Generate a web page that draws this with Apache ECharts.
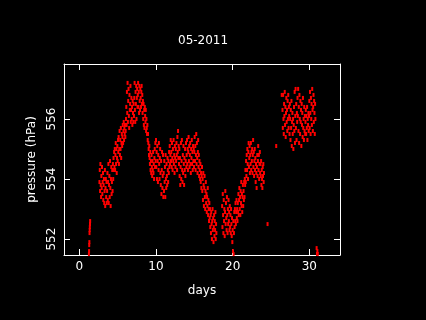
<!DOCTYPE html>
<html>
<head>
<meta charset="utf-8">
<script src="https://cdn.jsdelivr.net/npm/echarts@6/dist/echarts.min.js"></script>
<style>
  html, body { margin: 0; padding: 0; background: #000; }
  #chart { width: 426px; height: 320px; }
</style>
</head>
<body>
<div id="chart"></div>
<script>
// ticks
var xTicks = [0, 10, 20, 30];
var yTicks = [552, 554, 556];

// hourly readings, each block starts at the given day
var earlyDays = [1.25, 1.27, 1.29, 1.31, 1.33, 1.35, 1.37, 1.39, 1.41];
var earlyValues = [551.5, 551.6, 551.8, 551.9, 552.2, 552.3, 552.4, 552.5, 552.6];

var segAStart = 2.625;
var segAValues = [
  553.9, 554.3, 553.6, 554.5, 553.8, 553.4, 554.1, 553.7, 554.4, 553.5, 553.9, 554.2, 553.3, 553.8, 554.0, 553.2, 553.6, 554.3, 553.1, 553.7, 554.0, 553.4, 553.9, 553.2,
  553.6, 554.2, 553.3, 553.9, 554.5, 553.2, 553.8, 554.1, 553.4, 554.6, 553.7, 553.1, 554.0, 554.4, 553.5, 553.9, 554.3, 553.6, 554.5, 554.0, 554.7, 554.3, 554.9, 554.4,
  555.0, 554.3, 554.8, 555.2, 554.5, 555.0, 554.2, 554.7, 555.1, 554.6, 555.3, 554.9, 555.4, 554.5, 555.0, 555.6, 554.8, 555.3, 555.0, 555.7, 554.7, 555.2, 555.5, 555.1,
  555.4, 555.8, 555.2, 555.6, 555.9, 555.3, 555.7, 555.5, 555.8, 555.4, 555.6, 556.0, 556.4, 555.8, 556.9, 556.2, 557.2, 555.9, 556.6, 557.0, 556.1, 555.7, 556.8, 556.3,
  556.5, 557.1, 555.9, 556.3, 556.7, 556.0, 556.4, 555.8, 556.6, 556.2, 555.9, 556.5, 556.1, 556.7, 557.2, 556.3, 555.9, 556.9, 556.5, 557.1, 556.0, 556.7, 557.0, 556.4,
  556.8, 557.2, 556.4, 556.9, 556.2, 557.1, 556.6, 556.3, 557.0, 556.7, 556.4, 556.9, 557.1, 556.5, 556.8, 556.2, 556.6, 556.0, 556.5, 555.8, 556.3, 555.7, 556.4, 556.1,
  555.9, 556.3, 555.6, 556.0, 555.7, 555.5, 555.8, 555.3, 555.5
];

var segBStart = 9.0;
var segBValues = [
  555.2, 555.0, 554.8, 555.1, 554.7, 554.5, 554.9, 554.3, 554.6, 554.2, 554.8, 554.4, 554.1, 554.6, 554.3, 554.9, 554.2, 554.5, 554.0, 554.7, 555.0, 554.4, 555.2, 554.6,
  555.3, 554.4, 554.9, 554.0, 555.1, 554.6, 553.9, 554.8, 554.3, 555.2, 554.5, 554.0, 554.7, 555.0, 554.2, 553.8, 554.6, 553.5, 554.3, 554.9, 553.7, 554.1, 554.8, 553.4,
  554.2, 553.6, 554.6, 553.9, 554.4, 553.4, 554.8, 554.0, 553.7, 554.5, 554.1, 553.8, 554.7, 554.3, 553.9, 554.6, 554.2, 554.9, 554.4, 555.1, 554.5, 554.8, 555.3, 554.6,
  554.9, 554.4, 555.2, 554.7, 554.3, 555.0, 554.6, 555.3, 554.5, 554.8, 554.2, 555.1, 554.7, 554.4, 555.0, 554.6, 555.2, 554.8, 554.3, 555.4, 554.9, 555.6, 554.7, 555.1,
  554.5, 555.0, 554.1, 554.7, 553.8, 554.4, 555.2, 554.0, 554.6, 555.3, 554.3, 553.9, 554.8, 554.2, 555.1, 554.5, 553.8, 554.7, 554.3, 555.0, 554.1, 554.6, 555.2, 554.4,
  554.8, 555.3, 554.5, 555.0, 554.3, 554.9, 555.4, 554.6, 555.1, 554.4, 554.8, 555.2, 554.5, 554.2, 555.0, 554.7, 555.3, 554.5, 554.9, 554.3, 555.1, 554.6, 555.0, 554.4,
  554.9, 555.4, 554.6, 555.1, 554.3, 554.8, 555.5, 554.5, 555.2, 554.7, 554.2, 554.9, 555.3, 554.4, 554.8, 554.1, 554.6, 554.3, 554.0, 554.5, 553.9, 554.2, 553.7, 554.1,
  554.4, 553.6, 554.0, 553.3, 554.2, 553.8, 553.1, 553.7, 554.1, 553.4, 553.0, 553.6, 553.9, 553.2, 553.5, 552.9, 553.4, 553.1, 553.7, 552.8, 553.3, 553.0, 552.6, 553.2,
  552.7, 553.0, 552.4, 552.8, 552.2, 552.9, 552.5, 552.0, 552.6, 553.0, 552.3, 552.7, 551.9, 552.4, 552.8, 552.1, 552.6, 552.3, 552.9, 552.0, 552.5, 552.2
];

var segCStart = 18.625;
var segCValues = [
  553.1, 552.4, 553.5, 552.8, 552.2, 553.3, 552.6, 553.0, 552.1, 552.9, 553.6, 552.5, 553.2, 552.7, 552.3, 553.4, 552.8, 552.2, 553.0, 552.5, 553.3, 552.6, 552.9, 552.3,
  553.1, 552.4, 552.8, 552.2, 553.0, 552.5, 552.1, 552.7, 551.9, 552.3, 551.6, 552.6, 551.5, 552.2, 552.9, 552.4, 553.0, 552.6, 553.2, 552.5, 552.9, 553.3, 552.7, 553.0,
  552.6, 553.2, 552.9, 553.5, 552.8, 553.3, 553.7, 553.0, 553.4, 552.8, 553.6, 553.2, 553.9, 553.1, 553.5, 552.9, 553.4, 553.8, 553.1, 553.6, 553.3, 553.9, 553.4, 554.0,
  553.8, 554.3, 553.9, 554.6, 554.1, 554.8, 554.3, 555.0, 554.5, 554.0, 554.9, 555.2, 554.4, 554.7, 555.1, 554.2, 554.8, 554.5, 555.2, 554.3, 554.9, 554.6, 555.0, 554.2,
  554.8, 555.3, 554.4, 554.9, 554.1, 554.6, 555.0, 554.3, 554.7, 553.9, 554.5, 554.2, 553.7, 554.4, 554.8, 554.1, 554.6, 555.1, 554.3, 554.8, 554.0, 554.5, 554.9, 554.2,
  554.5, 554.1, 554.6, 553.8, 554.3, 554.0, 553.7, 554.4, 554.1, 554.5, 553.9, 554.2
];

var strayDays = [24.55, 25.68, 26.4];
var strayValues = [552.5, 555.1, 556.8];

var segDStart = 26.5;
var segDValues = [
  556.3, 555.7, 556.8, 556.0, 555.5, 556.5, 556.1, 556.9, 555.8, 556.4, 555.4, 556.2, 556.7, 555.9, 556.3, 555.6, 556.6, 556.0, 556.8, 555.7, 556.4, 556.1, 555.5, 556.5,
  556.0, 555.3, 556.3, 555.7, 556.6, 555.1, 555.9, 556.2, 555.5, 556.0, 555.0, 555.8, 556.4, 555.6, 556.9, 555.2, 556.1, 557.0, 555.7, 556.5, 555.3, 556.2, 555.9, 556.7,
  556.1, 557.0, 555.6, 556.4, 555.2, 556.8, 556.0, 555.5, 556.6, 555.9, 556.3, 555.1, 556.5, 555.8, 556.2, 555.4, 556.7, 555.7, 556.0, 555.3, 556.4, 555.6, 556.1, 555.5,
  555.9, 556.3, 555.5, 556.1, 555.7, 556.4, 555.3, 556.0, 555.8, 556.2, 555.6, 556.1, 556.6, 555.7, 556.9, 556.2, 555.5, 556.7, 556.0, 556.5, 555.8, 557.0, 556.3, 555.6,
  556.4, 556.8, 555.9, 556.6, 556.2, 555.5, 556.5, 556.0
];

var lateDays = [30.95, 31.0, 31.05, 31.1];
var lateValues = [551.7, 551.5, 551.6, 551.5];

var points = [];
function addPairs(days, vals) {
  for (var i = 0; i < vals.length; i++) points.push([days[i], vals[i]]);
}
function addHourly(start, vals) {
  for (var i = 0; i < vals.length; i++) points.push([start + i / 24, vals[i]]);
}
addPairs(earlyDays, earlyValues);
addHourly(segAStart, segAValues);
addHourly(segBStart, segBValues);
addHourly(segCStart, segCValues);
addPairs(strayDays, strayValues);
addHourly(segDStart, segDValues);
addPairs(lateDays, lateValues);

var font = 'DejaVu Sans';
var white = '#ffffff';

var dom = document.getElementById('chart');
var myChart = echarts.init(dom, null, {renderer: 'canvas'});
var option = {
  backgroundColor: '#000000',
  animation: false,
  title: {
    text: '05-2011',
    left: 173,
    top: 30,
    textStyle: {color: white, fontSize: 12, fontWeight: 'normal', fontFamily: font}
  },
  grid: {left: 64, right: 86, top: 64, bottom: 65, show: false},
  xAxis: [{
    type: 'value',
    min: -2,
    max: 34,
    position: 'bottom',
    name: 'days',
    nameLocation: 'middle',
    nameGap: 30,
    nameTextStyle: {color: white, fontSize: 12, fontFamily: font},
    axisLine: {show: true, onZero: false, lineStyle: {color: white, width: 1}},
    axisTick: {show: true, inside: true, length: 6, customValues: xTicks, lineStyle: {color: white}},
    axisLabel: {color: white, fontSize: 12, fontFamily: font, margin: 6, customValues: xTicks},
    splitLine: {show: false}
  }, {
    type: 'value',
    min: -2,
    max: 34,
    position: 'top',
    axisLine: {show: true, onZero: false, lineStyle: {color: white, width: 1}},
    axisTick: {show: true, inside: true, length: 6, customValues: xTicks, lineStyle: {color: white}},
    axisLabel: {show: false},
    splitLine: {show: false}
  }],
  yAxis: [{
    type: 'value',
    min: 551.47,
    max: 557.83,
    position: 'left',
    name: 'pressure (hPa)',
    nameLocation: 'middle',
    nameRotate: 90,
    nameGap: 21,
    nameTextStyle: {color: white, fontSize: 12, fontFamily: font},
    axisLine: {show: true, onZero: false, lineStyle: {color: white, width: 1}},
    axisTick: {show: true, inside: true, length: 6, customValues: yTicks, lineStyle: {color: white}},
    axisLabel: {color: white, fontSize: 12, fontFamily: font, margin: 6, rotate: 90, customValues: yTicks},
    splitLine: {show: false}
  }, {
    type: 'value',
    min: 551.47,
    max: 557.83,
    position: 'right',
    axisLine: {show: true, onZero: false, lineStyle: {color: white, width: 1}},
    axisTick: {show: true, inside: true, length: 6, customValues: yTicks, lineStyle: {color: white}},
    axisLabel: {show: false},
    splitLine: {show: false}
  }],
  series: [{
    name: 'pressure',
    type: 'scatter',
    xAxisIndex: 0,
    yAxisIndex: 0,
    symbol: 'rect',
    symbolSize: [2, 4],
    itemStyle: {color: '#ff0000', opacity: 1},
    data: points
  }]
};
if (option && typeof option === 'object') {
  myChart.setOption(option, true);
}
</script>
</body>
</html>
